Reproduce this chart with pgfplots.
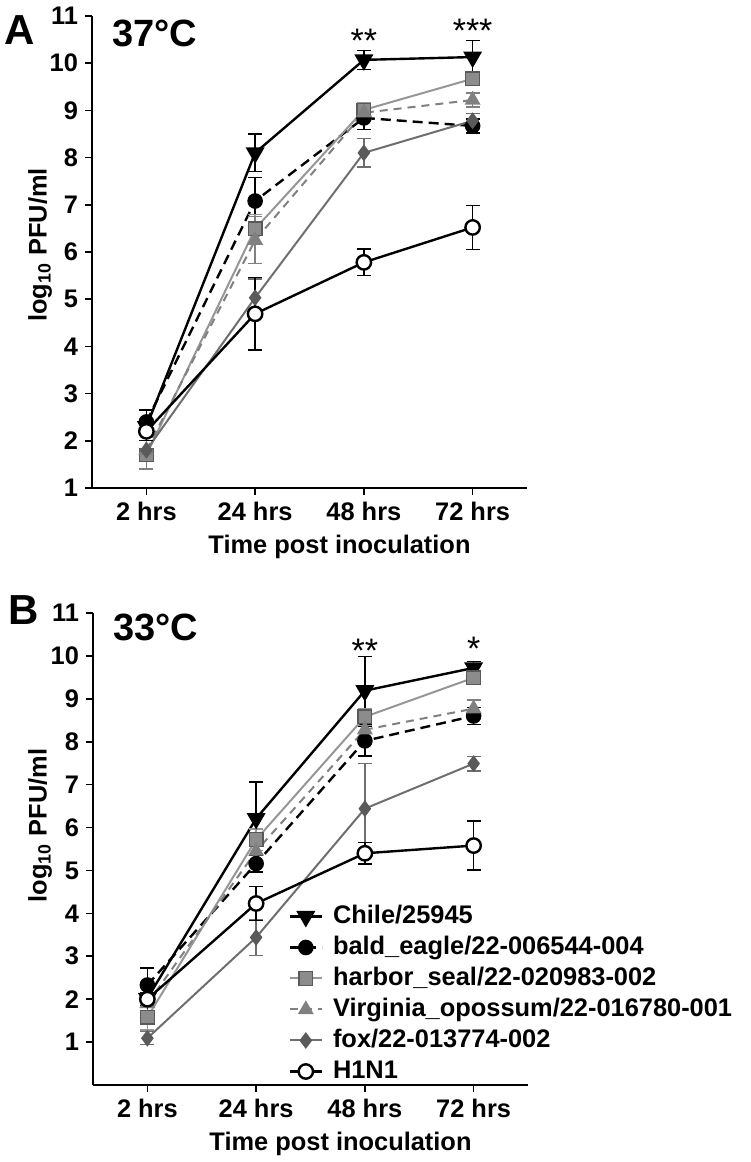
\documentclass[border=0pt]{standalone}
\usepackage{fontspec}
\setmainfont{Liberation Sans}
\usepackage{pgfplots}
\pgfplotsset{compat=1.18}
\definecolor{sealline}{HTML}{969696}
\definecolor{sealfill}{HTML}{8C8C8C}
\definecolor{opos}{HTML}{808080}
\definecolor{foxline}{HTML}{6E6E6E}
\definecolor{foxfill}{HTML}{5A5A5A}
\pgfplotsset{
  panel/.style={
    scale only axis, width=217.5pt, height=236pt,
    xmin=-0.5, xmax=3.5, xtick={0,1,2,3},
    xticklabels={2 hrs,24 hrs,48 hrs,72 hrs},
    axis x line*=bottom, axis y line*=left,
    axis line style={-, line width=0.8pt},
    tick align=outside, major tick length=3.5pt,
    tick style={black, line width=0.8pt},
    ytick={1,2,3,4,5,6,7,8,9,10,11},
    yticklabels={1,2,3,4,5,6,7,8,9,10,11},
    ticklabel style={font=\fontsize{12.7}{15}\selectfont\bfseries},
    xlabel={Time post inoculation},
    xlabel style={font=\fontsize{12.7}{15}\selectfont\bfseries, at={(rel axis cs:0.5,0)}, anchor=center, yshift=-29.5pt, xshift=15pt},
    ylabel={log\textsubscript{10} PFU/ml},
    clip=false,
    legend image code/.code={\draw[mark repeat=2,mark phase=2,##1] plot coordinates {(0pt,0pt)(8pt,0pt)(16pt,0pt)};},
  },
  eb/.style={error bars/.cd, y dir=both, y explicit,
    error bar style={solid, line width=0.7pt},
    error mark options={solid, rotate=90, mark size=3.5pt, line width=0.7pt}},
  chile/.style={black, line width=1.2pt, mark=triangle*, mark options={solid, rotate=180, fill=black, mark size=4.3pt}, eb},
  eagle/.style={black, line width=1.2pt, dash pattern=on 5pt off 3pt, mark=*, mark options={solid, fill=black, mark size=3.3pt}, eb},
  seal/.style={sealline, line width=1pt, mark=square*, mark options={solid, fill=sealfill, draw=black!65, mark size=3.4pt, line width=0.6pt}, eb},
  opossum/.style={opos, line width=1pt, dash pattern=on 4pt off 3pt, mark=triangle*, mark options={solid, fill=opos, draw=opos, mark size=3.6pt}, eb},
  fox/.style={foxline, line width=1pt, mark=diamond*, mark options={solid, fill=foxfill, draw=foxfill, mark size=3.4pt}, eb},
  hini/.style={black, line width=1.2pt, mark=*, mark options={solid, fill=white, draw=black, mark size=3.6pt, line width=1.2pt}, eb},
}
\begin{document}
\begin{tikzpicture}
\useasboundingbox (0,0) rectangle (375pt,581pt);
% ---------- Panel A ----------
\begin{axis}[panel, at={(46pt,337pt)}, anchor=south west,
  ymin=1, ymax=11,
  ylabel style={font=\fontsize{12.7}{15}\selectfont\bfseries, at={(rel axis cs:0,0.515)}, anchor=center, yshift=26pt}]
\addplot[chile] coordinates {(0,2.3) +- (0,0.15) (1,8.10) +- (0,0.4) (2,10.07) +- (0,0.2) (3,10.13) +- (0,0.35)};
\addplot[eagle] coordinates {(0,2.4) +- (0,0.25) (1,7.08) +- (0,0.5) (2,8.84) +- (0,0.25) (3,8.67) +- (0,0.15)};
\addplot[seal] coordinates {(0,1.7) +- (0,0.3) (1,6.49) +- (0,0.3) (2,9.01) +- (0,0.15) (3,9.67) +- (0,0.1)};
\addplot[opossum] coordinates {(0,1.8) +- (0,0.4) (1,6.25) +- (0,0.5) (2,8.95) +- (0,0.15) (3,9.22) +- (0,0.15)};
\addplot[fox] coordinates {(0,1.8) +- (0,0.2) (1,5.03) +- (0,0.4) (2,8.10) +- (0,0.3) (3,8.78) +- (0,0.15)};
\addplot[hini] coordinates {(0,2.2) +- (0,0.2) (1,4.69) +- (0,0.77) (2,5.78) +- (0,0.28) (3,6.52) +- (0,0.47)};
\node[anchor=base, font=\fontsize{17}{17}\selectfont] at (axis cs:2,10.22) {**};
\node[anchor=base, font=\fontsize{17}{17}\selectfont] at (axis cs:3,10.43) {***};
\end{axis}
\node[anchor=west, inner sep=0pt, font=\fontsize{21}{21}\selectfont\bfseries] at (2pt,566pt) {A};
\node[anchor=west, inner sep=0pt, font=\fontsize{19}{19}\selectfont\bfseries] at (56pt,564.5pt) {37°C};
% ---------- Panel B ----------
\begin{axis}[panel, at={(46.5pt,38.5pt)}, anchor=south west,
  ymin=0, ymax=11,
  ylabel style={font=\fontsize{12.7}{15}\selectfont\bfseries, at={(rel axis cs:0,0.55)}, anchor=center, yshift=26.5pt},
  legend style={at={(0.435,0.396)}, anchor=north west, draw=none, fill=none,
    font=\fontsize{12.7}{15}\selectfont\bfseries,
    nodes={inner sep=1pt, text height=9.5pt, text depth=2.5pt},
    row sep=1.5pt, /tikz/every odd column/.append style={column sep=4pt}},
  legend cell align=left]
\addplot[chile] coordinates {(0,2.02) +- (0,0.1) (1,6.21) +- (0,0.85) (2,9.19) +- (0,0.8) (3,9.72) +- (0,0.15)};
\addlegendentry{Chile/25945}
\addplot[eagle] coordinates {(0,2.33) +- (0,0.4) (1,5.16) +- (0,0.2) (2,8.02) +- (0,0.35) (3,8.60) +- (0,0.2)};
\addlegendentry{bald\_eagle/22-006544-004}
\addplot[seal] coordinates {(0,1.58) +- (0,0.3) (1,5.72) +- (0,0.25) (2,8.58) +- (0,0.2) (3,9.49) +- (0,0.1)};
\addlegendentry{harbor\_seal/22-020983-002}
\addplot[opossum] coordinates {(0,1.9) +- (0,0.2) (1,5.45) +- (0,0.3) (2,8.28) +- (0,0.2) (3,8.77) +- (0,0.2)};
\addlegendentry{Virginia\_opossum/22-016780-001}
\addplot[fox] coordinates {(0,1.09) +- (0,0.15) (1,3.44) +- (0,0.42) (2,6.44) +- (0,1.05) (3,7.49) +- (0,0.17)};
\addlegendentry{fox/22-013774-002}
\addplot[hini] coordinates {(0,2.0) +- (0,0.15) (1,4.23) +- (0,0.4) (2,5.40) +- (0,0.25) (3,5.58) +- (0,0.57)};
\addlegendentry{H1N1}
\node[anchor=base, font=\fontsize{17}{17}\selectfont] at (axis cs:2,9.85) {**};
\node[anchor=base, font=\fontsize{17}{17}\selectfont] at (axis cs:3,9.9) {*};
\end{axis}
\node[anchor=west, inner sep=0pt, font=\fontsize{21}{21}\selectfont\bfseries] at (4pt,276pt) {B};
\node[anchor=west, inner sep=0pt, font=\fontsize{19}{19}\selectfont\bfseries] at (56.5pt,267.5pt) {33°C};
\end{tikzpicture}
\end{document}
